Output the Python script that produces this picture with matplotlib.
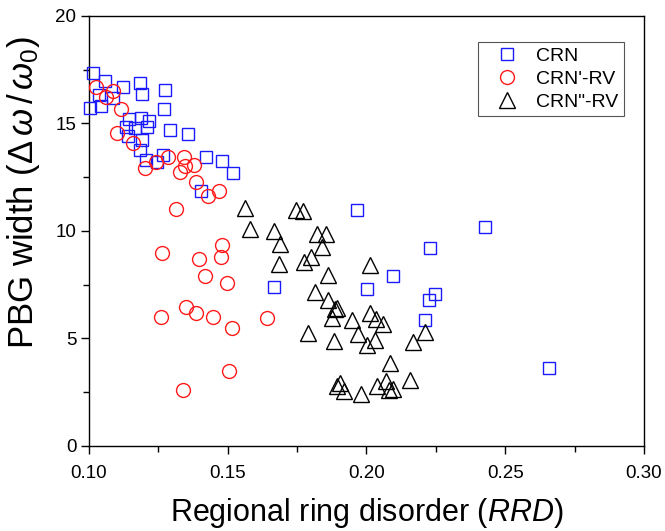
import matplotlib
matplotlib.use("Agg")
import matplotlib.pyplot as plt

plt.rcParams["font.family"] = ["Liberation Sans", "DejaVu Sans"]
plt.rcParams["mathtext.fontset"] = "custom"
plt.rcParams["mathtext.rm"] = "Liberation Sans"
plt.rcParams["mathtext.it"] = "Liberation Sans:italic"

# CRN (blue squares)
crn_x = [0.1016, 0.1058, 0.1123, 0.1183, 0.1191, 0.1273, 0.1037, 0.1087, 0.1004, 0.1042,
         0.1270, 0.1144, 0.1186, 0.1217, 0.1133, 0.1165, 0.1210, 0.1291, 0.1357, 0.1141,
         0.1192, 0.1183, 0.1204, 0.1246, 0.1267, 0.1423, 0.1481, 0.1519, 0.1403, 0.1965,
         0.2230, 0.2097, 0.2002, 0.1665, 0.2247, 0.2227, 0.2211, 0.2428, 0.2658]
crn_y = [17.33, 16.98, 16.69, 16.88, 16.37, 16.57, 16.33, 16.18, 15.73, 15.79,
         15.68, 15.22, 15.25, 15.13, 14.82, 14.78, 14.83, 14.71, 14.51, 14.40,
         14.25, 13.78, 13.32, 13.21, 13.55, 13.43, 13.25, 12.71, 11.85, 10.97,
         9.22, 7.90, 7.29, 7.39, 7.07, 6.80, 5.85, 10.19, 3.62]

# CRN'-RV (red circles)
rv1_x = [0.1025, 0.1061, 0.1085, 0.1117, 0.1101, 0.1159, 0.1201, 0.1241, 0.1285, 0.1343,
         0.1345, 0.1379, 0.1327, 0.1384, 0.1429, 0.1468, 0.1313, 0.1481, 0.1263, 0.1397,
         0.1475, 0.1418, 0.1499, 0.1351, 0.1384, 0.1260, 0.1447, 0.1642, 0.1514, 0.1504,
         0.1338]
rv1_y = [16.72, 16.21, 16.52, 15.68, 14.55, 14.09, 12.93, 13.21, 13.43, 13.43,
         13.00, 13.08, 12.75, 12.27, 11.62, 11.85, 11.00, 9.37, 8.99, 8.72,
         8.78, 7.92, 7.59, 6.48, 6.19, 6.02, 6.02, 5.97, 5.48, 3.51,
         2.61]

# CRN''-RV (black triangles)
rv2_x = [0.1561, 0.1745, 0.1773, 0.1579, 0.1667, 0.1821, 0.1855, 0.1689, 0.1839, 0.1801,
         0.1776, 0.1686, 0.2013, 0.1862, 0.1814, 0.1860, 0.1893, 0.1885, 0.1875, 0.1948,
         0.2011, 0.2035, 0.2061, 0.1969, 0.2031, 0.2001, 0.1789, 0.1883, 0.2167, 0.2211,
         0.2085, 0.2157, 0.2071, 0.2037, 0.2094, 0.2082, 0.1904, 0.1895, 0.1919, 0.1982]
rv2_y = [11.08, 10.97, 10.92, 10.10, 9.99, 9.88, 9.88, 9.40, 9.25, 8.78,
         8.55, 8.45, 8.40, 7.93, 7.18, 6.79, 6.42, 6.35, 5.94, 5.85,
         6.17, 5.89, 5.69, 5.20, 4.92, 4.69, 5.24, 4.86, 4.84, 5.31,
         3.84, 3.08, 3.00, 2.80, 2.65, 2.60, 2.92, 2.80, 2.57, 2.44]

fig = plt.figure(figsize=(6.65, 5.31), dpi=100)
ax = fig.add_axes([0.1338, 0.1601, 0.8346, 0.8098])

ax.plot(crn_x, crn_y, ls="none", marker="s", ms=8, mfc="none", mec="#1a1aff",
        mew=1.0, clip_on=False, label="CRN", zorder=3)
ax.plot(rv1_x, rv1_y, ls="none", marker="o", ms=10, mfc="none", mec="#ff1a1a",
        mew=1.0, clip_on=False, label="CRN'-RV", zorder=3)
ax.plot(rv2_x, rv2_y, ls="none", marker="^", ms=11.5, mfc="none", mec="black",
        mew=1.0, clip_on=False, label='CRN"-RV', zorder=3)

ax.set_xlim(0.10, 0.30)
ax.set_ylim(0, 20)
ax.set_xticks([0.10, 0.15, 0.20, 0.25, 0.30])
ax.set_xticklabels(["0.10", "0.15", "0.20", "0.25", "0.30"])
ax.set_xticks([0.125, 0.175, 0.225, 0.275], minor=True)
ax.set_yticks([0, 5, 10, 15, 20])
ax.set_yticks([2.5, 7.5, 12.5, 17.5], minor=True)
ax.tick_params(which="both", direction="out", labelsize=13.5, width=1.0,
               top=False, right=False)
ax.tick_params(axis="x", pad=8)
ax.tick_params(axis="y", pad=3)
ax.tick_params(which="major", length=6)
ax.tick_params(which="minor", length=4)
for s in ax.spines.values():
    s.set_linewidth(1.0)

ax.set_xlabel("Regional ring disorder ($\\mathit{RRD}$)", fontsize=22, labelpad=10)
ax.set_ylabel("PBG width ($\\Delta\\,\\omega\\,/\\,\\omega_0$)", fontsize=25)
ax.yaxis.set_label_coords(-0.085, 0.59)

leg = ax.legend(loc="upper right", bbox_to_anchor=(0.964, 0.940), borderaxespad=0,
                fontsize=14, fancybox=False, framealpha=1, edgecolor="#555555",
                handletextpad=0.3, borderpad=0.28, labelspacing=0.28,
                handlelength=2.4)
leg.get_frame().set_linewidth(0.8)

fig.savefig("out.png", dpi=100)
